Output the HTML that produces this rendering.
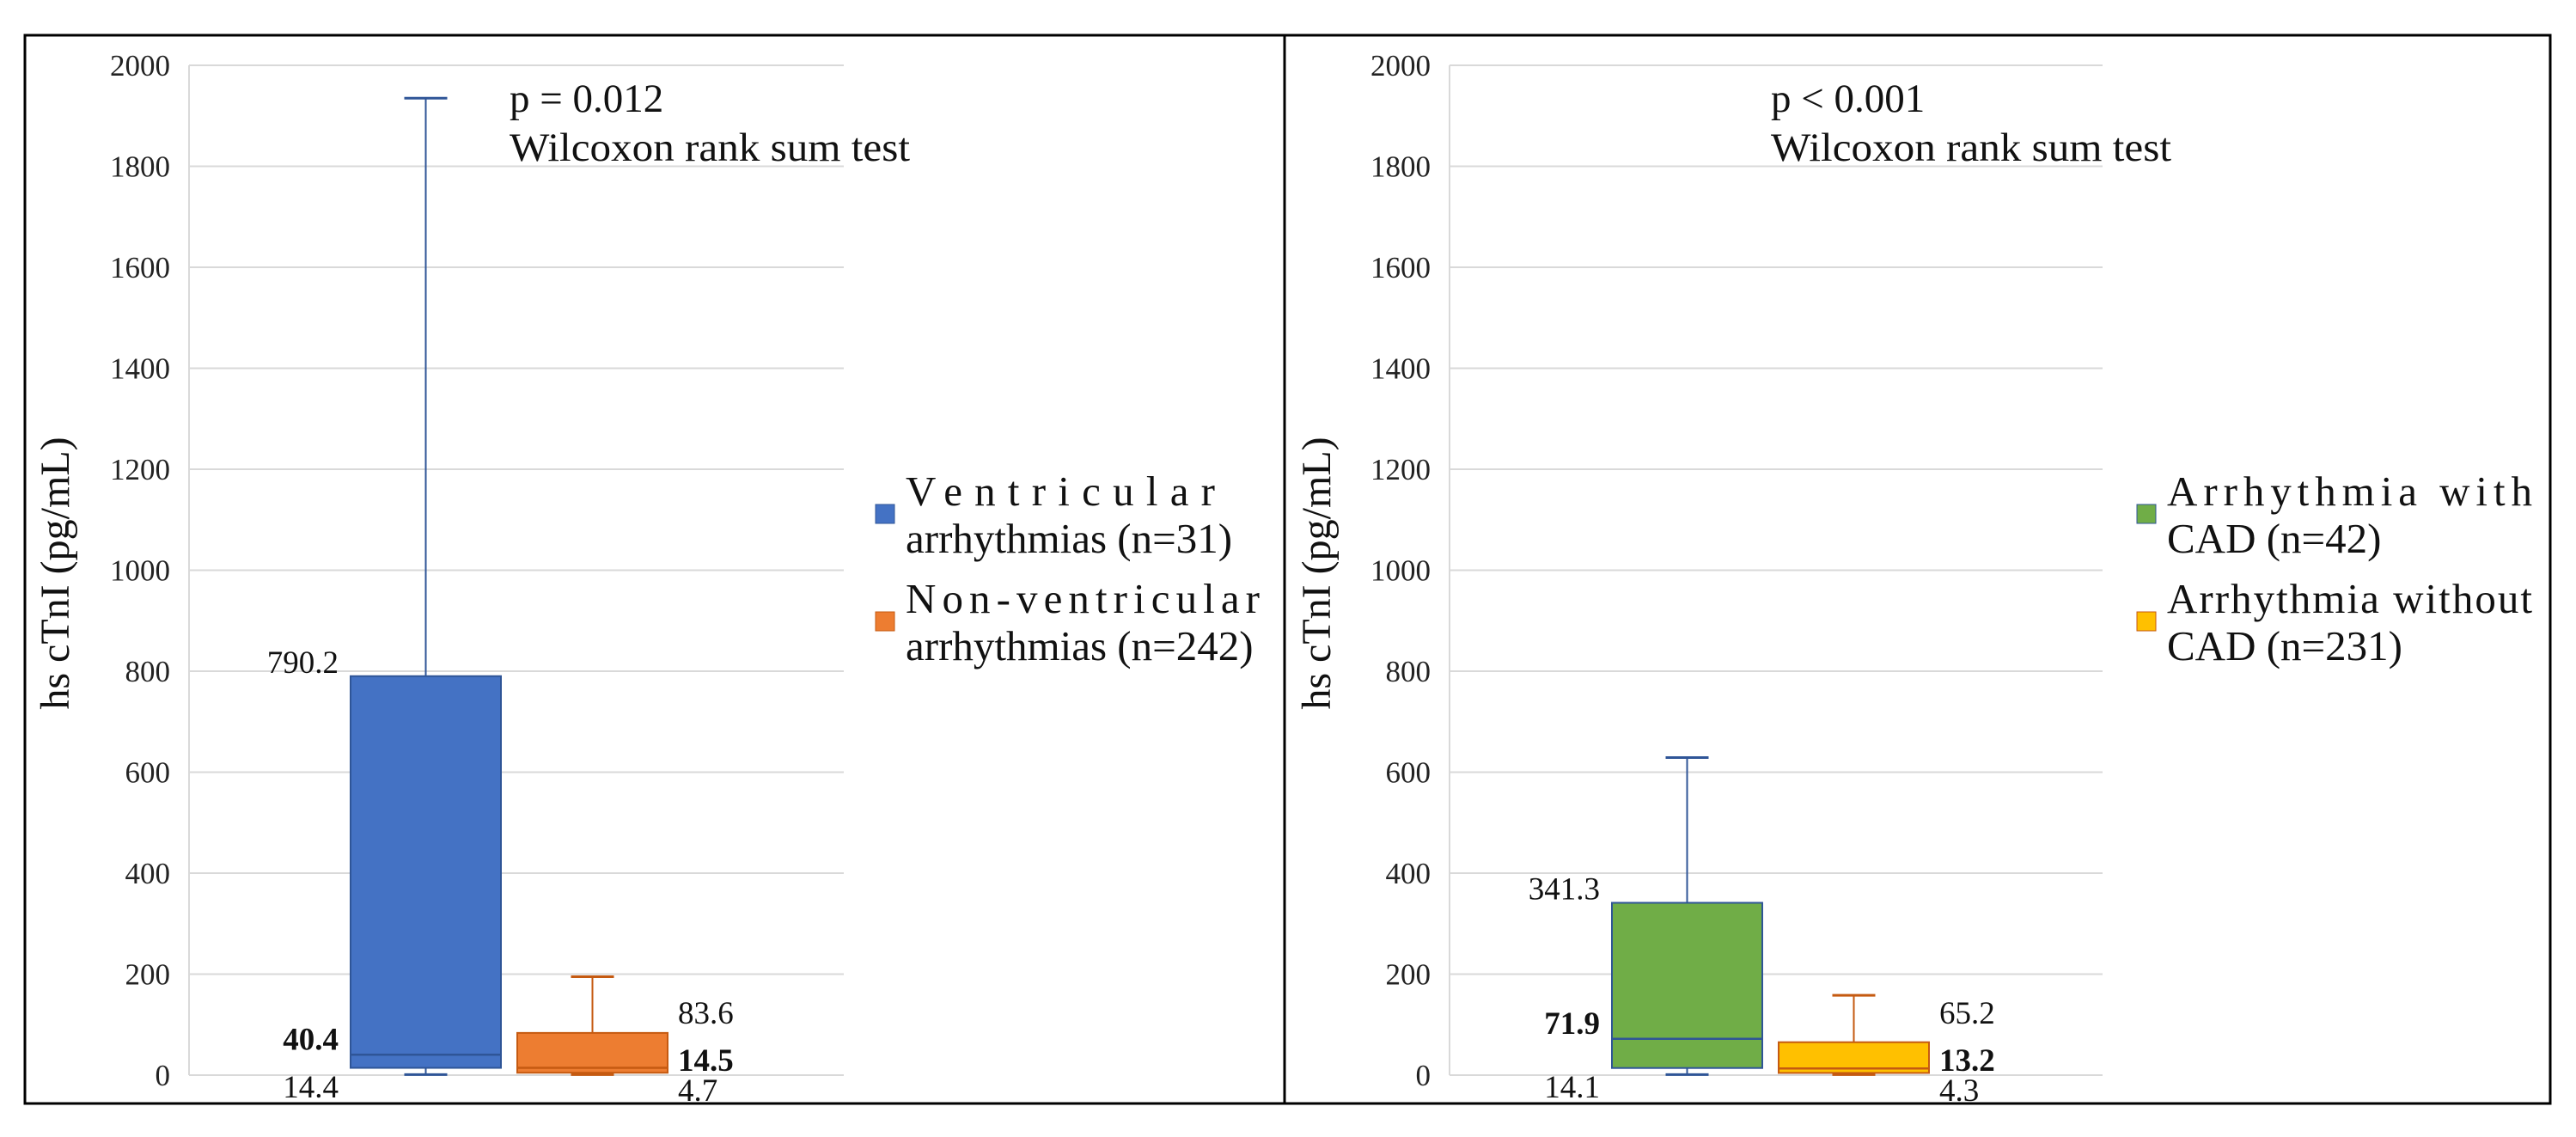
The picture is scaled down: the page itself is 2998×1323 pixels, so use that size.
<!DOCTYPE html>
<html><head><meta charset="utf-8"><style>
html,body{margin:0;padding:0;background:#fff;}
svg{display:block;font-family:"Liberation Serif",serif;}
</style></head><body>
<svg id="chart" width="2998" height="1323" viewBox="0 0 2998 1323" xmlns="http://www.w3.org/2000/svg">
<rect x="0" y="0" width="2998" height="1323" fill="#fff"/>
<rect x="29" y="41" width="2939" height="1243" fill="none" stroke="#000" stroke-width="3"/>
<line x1="1495" y1="41" x2="1495" y2="1284" stroke="#000" stroke-width="3"/>
<g id="layer"></g>
</svg>
<script>
const tickValues = [0,200,400,600,800,1000,1200,1400,1600,1800,2000];
const leftGroups = ["Ventricular arrhythmias (n=31)","Non-ventricular arrhythmias (n=242)"];
const leftMin = [1, 1];
const leftQ1 = [14.4, 4.7];
const leftMedian = [40.4, 14.5];
const leftQ3 = [790.2, 83.6];
const leftMax = [1935, 195];
const rightGroups = ["Arrhythmia with CAD (n=42)","Arrhythmia without CAD (n=231)"];
const rightMin = [1, 1];
const rightQ1 = [14.1, 4.3];
const rightMedian = [71.9, 13.2];
const rightQ3 = [341.3, 65.2];
const rightMax = [629, 158];

const NS = "http://www.w3.org/2000/svg";
const layer = document.getElementById('layer');
function mk(tag, attrs, parent, text){
  const e = document.createElementNS(NS, tag);
  for (const k in attrs) e.setAttribute(k, attrs[k]);
  if (text !== undefined) e.textContent = text;
  (parent||layer).appendChild(e);
  return e;
}
const Y0 = 1251, Y2000 = 76;
function yScale(v){ return Y0 - (v/2000)*(Y0-Y2000); }

function panel(cfg){
  const g = mk('g', {});
  
  
  tickValues.forEach(t => {
    const gl = mk('line', {x1:cfg.ax0, x2:cfg.ax1, y1:yScale(t), y2:yScale(t), stroke:'#d9d9d9', 'stroke-width':2}, g);
    
    
    const tl = mk('text', {x:cfg.ax0-22, y:yScale(t)+12, 'text-anchor':'end', 'font-size':35, fill:'#222'}, g, String(t));
    
    
  });
  const va = mk('line', {x1:cfg.ax0, x2:cfg.ax0, y1:Y2000, y2:Y0, stroke:'#d9d9d9', 'stroke-width':2}, g);
  
  
  const yt = mk('text', {x:0, y:0, transform:`translate(${cfg.titleX},667) rotate(-90)`, 'text-anchor':'middle', 'font-size':48, fill:'#111'}, g, 'hs cTnI (pg/mL)');
  
  
  const p = mk('text', {x:cfg.annX, y:130, 'font-size':47, fill:'#111'}, g, cfg.pText);
  
  
  const w = mk('text', {x:cfg.annX, y:187, 'font-size':47, fill:'#111', textLength:466, lengthAdjust:'spacingAndGlyphs'}, g, 'Wilcoxon rank sum test');
  
  
  for (let i=0;i<2;i++){
    const bx = cfg.boxX[i], bw = 175, cx = bx + bw/2;
    const yq1 = yScale(cfg.q1[i]), yq3 = yScale(cfg.q3[i]), ymed = yScale(cfg.med[i]);
    const yMax = yScale(cfg.max[i]), yMin = yScale(cfg.min[i]);
    const wk = mk('line', {x1:cx, x2:cx, y1:yMax, y2:yq3, stroke:cfg.stroke[i], 'stroke-width':2}, g);
    
    
    const cap = mk('line', {x1:cx-25, x2:cx+25, y1:yMax, y2:yMax, stroke:cfg.stroke[i], 'stroke-width':3}, g);
    
    
    const wk2 = mk('line', {x1:cx, x2:cx, y1:yq1, y2:yMin, stroke:cfg.stroke[i], 'stroke-width':2}, g);
    
    
    const cap2 = mk('line', {x1:cx-25, x2:cx+25, y1:yMin, y2:yMin, stroke:cfg.stroke[i], 'stroke-width':3}, g);
    
    
    const box = mk('rect', {x:bx, y:yq3, width:bw, height:yq1-yq3, fill:cfg.fill[i], stroke:cfg.stroke[i], 'stroke-width':2}, g);
    
    
    const md = mk('line', {x1:bx, x2:bx+bw, y1:ymed, y2:ymed, stroke:cfg.stroke[i], 'stroke-width':2.5}, g);
    
    
    const left = i===0;
    const lx = left ? bx-14 : bx+bw+12;
    const anchor = left ? 'end' : 'start';
    const l3 = mk('text', {x:lx, y: left ? yq3-4 : Math.min(yq3-8, Y0-60), 'text-anchor':anchor, 'font-size':37, fill:'#111'}, g, String(cfg.q3[i]));
    
    
    const lm = mk('text', {x:lx, y: left ? ymed-6 : Y0-5, 'text-anchor':anchor, 'font-size':37, 'font-weight':'bold', fill:'#111'}, g, String(cfg.med[i]));
    
    
    const l1 = mk('text', {x:lx, y: Y0+ (left? 26 : 30), 'text-anchor':anchor, 'font-size':37, fill:'#111'}, g, String(cfg.q1[i]));
    
    
  }
  for (let i=0;i<2;i++){
    const by = i===0 ? 0 : 125;
    const sq = mk('rect', {x:cfg.legX, y:587+by, width:22, height:22, fill:cfg.fill[i], stroke:cfg.stroke[i], 'stroke-width':1}, g);
    
    
    const t1 = mk('text', {x:cfg.legX+35, y:588+by, 'font-size':49, fill:'#111', textLength:cfg.leg1Len[i], lengthAdjust:'spacing'}, g, cfg.leg1[i]);
    
    
    const t2 = mk('text', {x:cfg.legX+35, y:643+by, 'font-size':49, fill:'#111'}, g, cfg.leg2[i]);
    
    
  }
}
panel({name:'left-panel', ax0:220, ax1:982, titleX:80, annX:593, pText:'p = 0.012',
  boxX:[408,602], q1:leftQ1, q3:leftQ3, med:leftMedian, max:leftMax, min:leftMin,
  fill:['#4472C4','#ED7D31'], stroke:['#2F5597','#C55A11'],
  legX:1019, leg1:['Ventricular','Non-ventricular'], leg1Len:[360,412], leg2:['arrhythmias (n=31)','arrhythmias (n=242)']});
panel({name:'right-panel', ax0:1687, ax1:2447, titleX:1548, annX:2061, pText:'p < 0.001',
  boxX:[1876,2070], q1:rightQ1, q3:rightQ3, med:rightMedian, max:rightMax, min:rightMin,
  fill:['#70AD47','#FFC000'], stroke:['#2F5597','#C55A11'],
  legX:2487, leg1:['Arrhythmia   with','Arrhythmia   without'], leg1Len:[425,425], leg2:['CAD (n=42)','CAD (n=231)']});
</script>
</body></html>
